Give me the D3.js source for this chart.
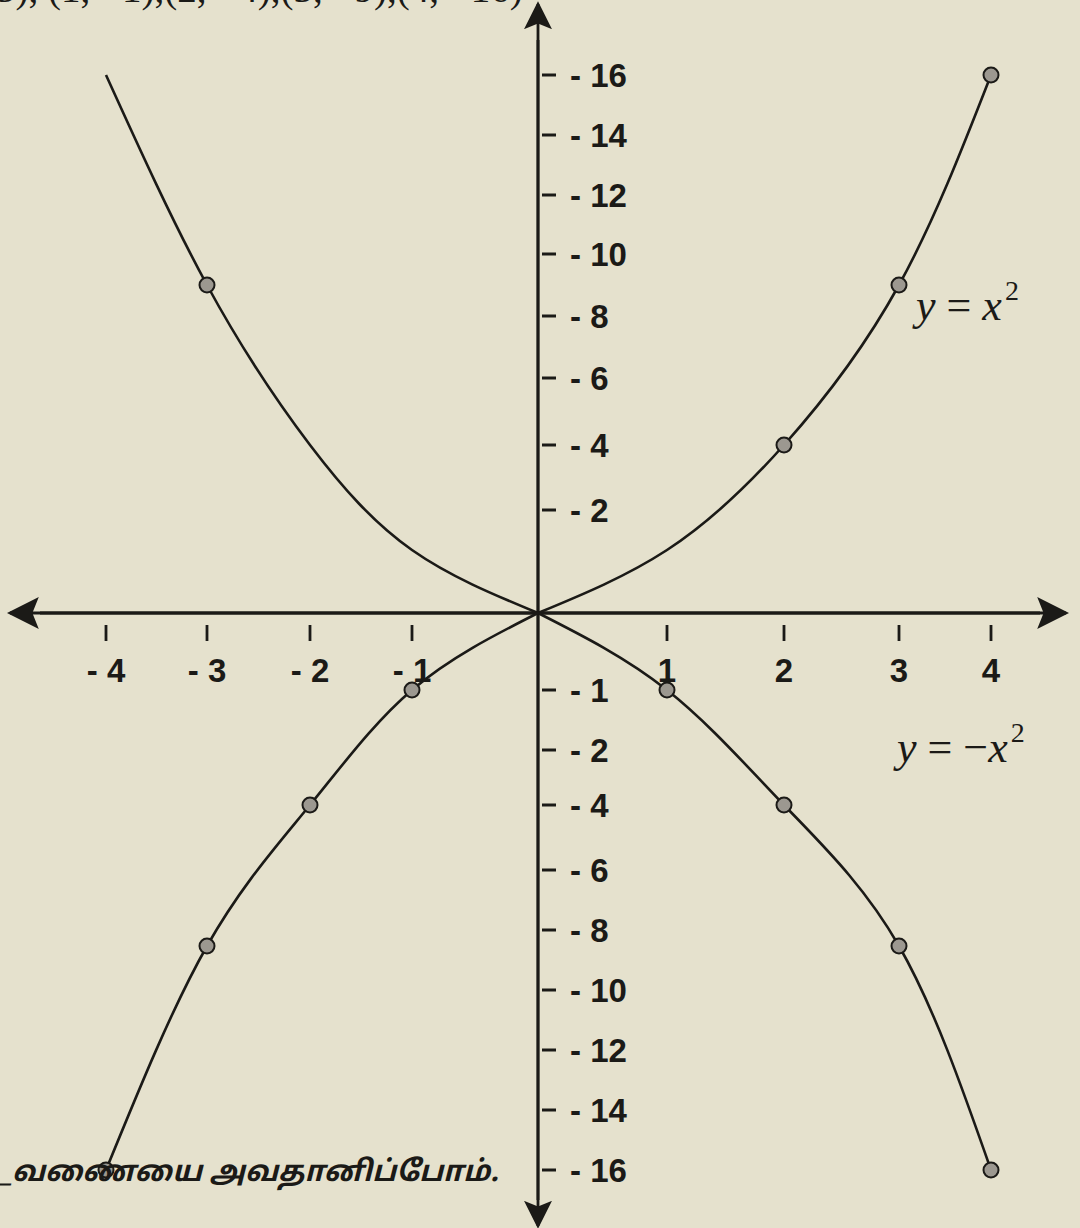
<!DOCTYPE html>
<html>
<head>
<meta charset="utf-8">
<script src="https://cdn.jsdelivr.net/npm/d3@7"></script>
<style>
    body { margin: 0; background: #e5e1cd; }
    svg { display: block; }
</style>
</head>
<body>
<svg id="chart"></svg>
<script>
// x values and their squares
let xRight = [0, 1, 2, 3, 4];
let xLeft = [0, -1, -2, -3, -4];
let sqRight = [0, 1, 4, 9, 16];
let sqLeft = [0, 1, 4, 9, 16];
let negRight = [0, -1, -4, -9, -16];
let negLeft = [0, -1, -4, -9, -16];

// which points carry a marker circle
let upperMarked = [[-3, 9], [2, 4], [3, 9], [4, 16]];
let lowerMarked = [[-4, -16], [-3, -9], [-2, -4], [-1, -1], [1, -1], [2, -4], [3, -9], [4, -16]];

let xTicks = [-4, -3, -2, -1, 1, 2, 3, 4];
let yTicks = [16, 14, 12, 10, 8, 6, 4, 2, -1, -2, -4, -6, -8, -10, -12, -14, -16];

let topNote = "3), (1, \u22121),(2, \u22124),(3, \u22129),(4, \u221216)";
let footNote = "_வணையை அவதானிப்போம்.";

let width = 1080;
let height = 1228;

let svg = d3.select("#chart")
    .attr("width", width)
    .attr("height", height);

// the drawing is not evenly spaced, so piecewise linear scales
let x = d3.scaleLinear()
    .domain([-4, -3, -2, -1, 0, 1, 2, 3, 4])
    .range([106, 207, 310, 412, 538, 667, 784, 899, 991]);

let y = d3.scaleLinear()
    .domain([-16, -14, -12, -10, -9, -8, -6, -4, -2, -1, 0, 1, 2, 4, 6, 8, 10, 12, 14, 16])
    .range([1170, 1110, 1050, 990, 946, 930, 870, 805, 750, 690, 613, 550, 510, 445, 378, 316, 254, 195, 135, 75]);

let ink = "#1b1a17";
let labelFont = "Liberation Sans, Arial, sans-serif";

// arrow heads
let defs = svg.append("defs");
defs.append("marker")
    .attr("id", "arrow")
    .attr("viewBox", "0 0 10 10")
    .attr("refX", 9)
    .attr("refY", 5)
    .attr("markerWidth", 10)
    .attr("markerHeight", 10)
    .attr("markerUnits", "strokeWidth")
    .attr("orient", "auto")
    .append("path")
    .attr("d", "M0,0 L10,5 L0,10 L2,5 Z")
    .attr("fill", ink);

// top note, cut off by the page edge
svg.append("text")
    .attr("x", -4)
    .attr("y", 2)
    .attr("font-family", "Liberation Serif, serif")
    .attr("font-size", 39)
    .attr("fill", ink)
    .text(topNote);

// axes
svg.append("line")
    .attr("x1", 40).attr("y1", y(0))
    .attr("x2", 1066).attr("y2", y(0))
    .attr("stroke", ink).attr("stroke-width", 3.2)
    .attr("marker-end", "url(#arrow)");
svg.append("line")
    .attr("x1", 1040).attr("y1", y(0))
    .attr("x2", 10).attr("y2", y(0))
    .attr("stroke", ink).attr("stroke-width", 3.2)
    .attr("marker-end", "url(#arrow)");
svg.append("line")
    .attr("x1", x(0)).attr("y1", 1200)
    .attr("x2", x(0)).attr("y2", 4)
    .attr("stroke", ink).attr("stroke-width", 2.8)
    .attr("marker-end", "url(#arrow)");
svg.append("line")
    .attr("x1", x(0)).attr("y1", 40)
    .attr("x2", x(0)).attr("y2", 1226)
    .attr("stroke", ink).attr("stroke-width", 2.8)
    .attr("marker-end", "url(#arrow)");

// x ticks and labels
let xg = svg.append("g");
xg.selectAll("line")
    .data(xTicks)
    .enter()
    .append("line")
    .attr("x1", d => x(d)).attr("x2", d => x(d))
    .attr("y1", y(0) + 12).attr("y2", y(0) + 28)
    .attr("stroke", ink).attr("stroke-width", 2.8);
xg.selectAll("text")
    .data(xTicks)
    .enter()
    .append("text")
    .attr("x", d => x(d))
    .attr("y", y(0) + 69)
    .attr("text-anchor", "middle")
    .attr("font-family", labelFont)
    .attr("font-weight", "bold")
    .attr("font-size", 33)
    .attr("fill", ink)
    .text(d => d < 0 ? "- " + Math.abs(d) : d);

// y ticks and labels
let yg = svg.append("g");
yg.selectAll("line")
    .data(yTicks)
    .enter()
    .append("line")
    .attr("x1", x(0) + 4).attr("x2", x(0) + 18)
    .attr("y1", d => y(d)).attr("y2", d => y(d))
    .attr("stroke", ink).attr("stroke-width", 3);
yg.selectAll("text")
    .data(yTicks)
    .enter()
    .append("text")
    .attr("x", x(0) + 32)
    .attr("y", d => y(d) + 12)
    .attr("font-family", labelFont)
    .attr("font-weight", "bold")
    .attr("font-size", 33)
    .attr("fill", ink)
    .text(d => "- " + Math.abs(d));

// curves, each parabola drawn as two branches from the origin
let line = d3.line()
    .x(d => x(d[0]))
    .y(d => y(d[1]))
    .curve(d3.curveNatural);

let branches = [
    d3.zip(xRight, sqRight),
    d3.zip(xLeft, sqLeft),
    d3.zip(xRight, negRight),
    d3.zip(xLeft, negLeft)
];

svg.append("g")
    .selectAll("path")
    .data(branches)
    .enter()
    .append("path")
    .attr("d", line)
    .attr("fill", "none")
    .attr("stroke", ink)
    .attr("stroke-width", 2.6);

// marker circles
svg.append("g")
    .selectAll("circle")
    .data(upperMarked.concat(lowerMarked))
    .enter()
    .append("circle")
    .attr("cx", d => x(d[0]))
    .attr("cy", d => y(d[1]))
    .attr("r", 7.5)
    .attr("fill", "#9c9890")
    .attr("stroke", ink)
    .attr("stroke-width", 2);

// curve names
let eq = svg.append("g")
    .attr("font-family", "Liberation Serif, serif")
    .attr("font-style", "italic")
    .attr("font-size", 44)
    .attr("fill", ink);

let t1 = eq.append("text").attr("x", 916).attr("y", 320);
t1.append("tspan").text("y");
t1.append("tspan").attr("font-style", "normal").text(" = ");
t1.append("tspan").text("x");
t1.append("tspan").attr("font-style", "normal").attr("font-size", 28).attr("dx", 3).attr("dy", -20).text("2");

let t2 = eq.append("text").attr("x", 897).attr("y", 762);
t2.append("tspan").text("y");
t2.append("tspan").attr("font-style", "normal").text(" = \u2212");
t2.append("tspan").text("x");
t2.append("tspan").attr("font-style", "normal").attr("font-size", 28).attr("dx", 3).attr("dy", -20).text("2");

// footnote in Tamil
svg.append("text")
    .attr("x", 0)
    .attr("y", 1181)
    .attr("font-family", "Noto Sans Tamil, Lohit Tamil, sans-serif")
    .attr("font-style", "italic")
    .attr("font-weight", "bold")
    .attr("font-size", 29)
    .attr("fill", ink)
    .text(footNote);
</script>
</body>
</html>
